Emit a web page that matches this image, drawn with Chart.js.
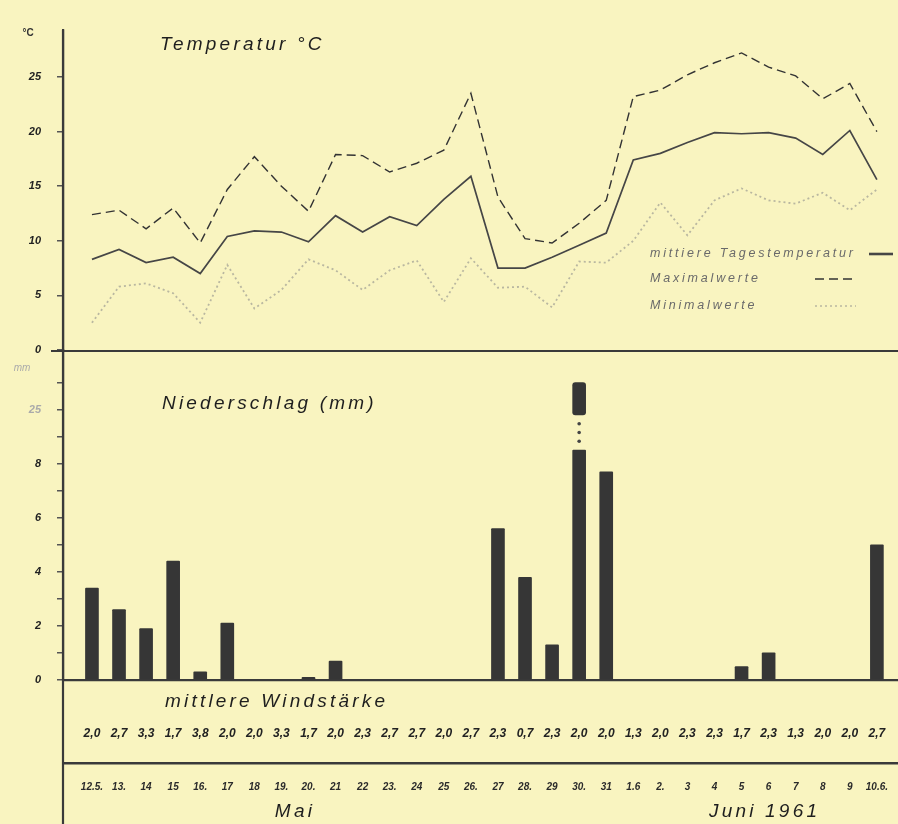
<!DOCTYPE html>
<html>
<head>
<meta charset="utf-8">
<script src="https://cdn.jsdelivr.net/npm/chart.js@4.4.1/dist/chart.umd.min.js"></script>
<style>
  html, body { margin:0; padding:0; background:#f9f4c0; }
  #wrap { width:898px; height:824px; position:relative; }
</style>
</head>
<body>
<div id="wrap"><canvas id="c" width="898" height="824"></canvas></div>
<script>
// Mai 12 .. Juni 10, 1961 (labels as printed)
const dates = ['12.5.','13.','14','15','16.','17','18','19.','20.','21','22','23.','24','25','26.',
               '27','28.','29','30.','31','1.6','2.','3','4','5','6','7','8','9','10.6.'];
const tMean = [8.3,9.2,8.0,8.5,7.0,10.4,10.9,10.8,9.9,12.3,10.8,12.2,11.4,13.8,15.9,
               7.5,7.5,8.5,9.6,10.7,17.4,18.0,19.0,19.9,19.8,19.9,19.4,17.9,20.1,15.6];
const tMax  = [12.4,12.8,11.1,13.0,9.8,14.7,17.7,15.0,12.7,17.9,17.8,16.3,17.1,18.3,23.5,
               14.0,10.2,9.8,11.6,13.7,23.2,23.8,25.2,26.3,27.2,25.9,25.1,23.0,24.4,20.0];
const tMin  = [2.5,5.8,6.1,5.2,2.5,7.8,3.8,5.5,8.3,7.3,5.5,7.3,8.2,4.4,8.4,
               5.7,5.8,3.9,8.1,8.0,10.0,13.5,10.5,13.7,14.8,13.7,13.4,14.4,12.8,14.7];
const rain  = [3.4,2.6,1.9,4.4,0.3,2.1,0,0,0.1,0.7,0,0,0,0,0,
               5.6,3.8,1.3,26,7.7,0,0,0,0,0.5,1.0,0,0,0,5.0];
const wind  = [2.0,2.7,3.3,1.7,3.8,2.0,2.0,3.3,1.7,2.0,2.3,2.7,2.7,2.0,2.7,
               2.3,0.7,2.3,2.0,2.0,1.3,2.0,2.3,2.3,1.7,2.3,1.3,2.0,2.0,2.7];
const tempTicks = [0,5,10,15,20,25];
const rainTicks = {0:'0',2:'2',4:'4',6:'6',8:'8',10:'25'};

// broken precipitation axis: 0..9 mm linear, above the break 25 mm sits at 10
const BREAK_LOW = 8.5, BREAK_HIGH = 9.8;
const rainAxis = v => v <= 9 ? v : 10 + (v - 25);

const FONT = '"Liberation Sans", "DejaVu Sans", sans-serif';

const pts = arr => arr.map((v, i) => ({x:i, y:v}));

const overlay = {
  id:'overlay',
  afterDraw(chart) {
    const {ctx, scales} = chart;
    const x = scales.x, yT = scales.yT, yP = scales.yP;
    const left = chart.chartArea.left, right = chart.width;
    ctx.save();
    // main vertical axis down to the bottom edge
    ctx.strokeStyle = '#3a3a3a'; ctx.lineWidth = 2.2;
    ctx.beginPath(); ctx.moveTo(left, chart.chartArea.top); ctx.lineTo(left, chart.height); ctx.stroke();
    // temperature base line
    const y0 = yT.getPixelForValue(0) + 1;
    ctx.beginPath(); ctx.moveTo(left - 12, y0); ctx.lineTo(right, y0); ctx.stroke();

    // dotted connector of the broken bar
    rain.forEach((v, i) => {
      if (v <= 9) return;
      const px = x.getPixelForValue(i);
      ctx.fillStyle = '#444';
      for (let k = 1; k <= 3; k++) {
        const vy = BREAK_LOW + (BREAK_HIGH - BREAK_LOW) * k / 4;
        ctx.beginPath(); ctx.arc(px, yP.getPixelForValue(vy), 1.8, 0, Math.PI * 2); ctx.fill();
      }
    });

    ctx.fillStyle = '#1e1e1e';
    ctx.textBaseline = 'middle';
    ctx.textAlign = 'left';
    ctx.letterSpacing = '3.2px';
    ctx.font = 'italic 19px ' + FONT;
    ctx.fillText('Temperatur °C', 160, 45);
    ctx.fillText('Niederschlag (mm)', 162, 404);
    ctx.fillText('mittlere Windstärke', 165, 702);
    ctx.textAlign = 'center';
    ctx.fillText('Mai', x.getPixelForValue(7.5), 812);
    ctx.fillText('Juni 1961', x.getPixelForValue(24.85), 812);

    ctx.letterSpacing = '0px';
    ctx.font = 'bold 10px ' + FONT;
    ctx.fillStyle = '#333';
    ctx.fillText('°C', 28, 33);
    ctx.fillStyle = '#aaa';
    ctx.font = 'italic 10px ' + FONT;
    ctx.fillText('mm', 22, 368);

    // legend
    const items = [
      {label:'mittiere Tagestemperatur', ds:0, y:254, x0:869, x1:893, w:2.6},
      {label:'Maximalwerte', ds:1, y:279, x0:815, x1:856, w:1.6},
      {label:'Minimalwerte', ds:2, y:306, x0:815, x1:856, w:1.6}
    ];
    ctx.textAlign = 'left';
    ctx.letterSpacing = '2.8px';
    ctx.font = 'italic 12.5px ' + FONT;
    items.forEach(it => {
      const ds = chart.data.datasets[it.ds];
      ctx.fillStyle = '#6a6a6a';
      ctx.fillText(it.label, 650, it.y);
      ctx.strokeStyle = ds.borderColor; ctx.lineWidth = it.w;
      ctx.setLineDash(ds.borderDash || []);
      ctx.beginPath(); ctx.moveTo(it.x0, it.y); ctx.lineTo(it.x1, it.y); ctx.stroke();
      ctx.setLineDash([]);
    });
    ctx.restore();
  }
};

const xTicks = (arr, fmt, size, pad, color) => ({
  stepSize:1, autoSkip:false, maxRotation:0, includeBounds:false, padding:pad, color:color,
  font:{family:FONT, size:size, style:'italic', weight:'bold'},
  callback: v => (Number.isInteger(v) && v >= 0 && v < arr.length) ? fmt(arr[v]) : null
});

new Chart(document.getElementById('c'), {
  data: {
    datasets: [
      {type:'line', label:'mittlere Tagestemperatur', data:pts(tMean), yAxisID:'yT',
       borderColor:'#464646', borderWidth:1.7, pointRadius:0, tension:0},
      {type:'line', label:'Maximalwerte', data:pts(tMax), yAxisID:'yT',
       borderColor:'#333', borderWidth:1.4, borderDash:[9,5], pointRadius:0, tension:0},
      {type:'line', label:'Minimalwerte', data:pts(tMin), yAxisID:'yT',
       borderColor:'#b9b7a0', borderWidth:1.8, borderDash:[2,3], pointRadius:0, tension:0},
      {type:'bar', label:'Niederschlag', yAxisID:'yP', xAxisID:'x', grouped:false,
       data: rain.map((v, i) => ({x:i, y: v > 9 ? BREAK_LOW : v})).filter(p => p.y > 0),
       backgroundColor:'#363636', barThickness:13, borderRadius:1},
      {type:'bar', label:'Niederschlag (oben)', yAxisID:'yP', xAxisID:'x', grouped:false,
       data: rain.map((v, i) => ({x:i, y:[BREAK_HIGH, rainAxis(v)]})).filter(p => rain[p.x] > 9),
       backgroundColor:'#363636', barThickness:13, borderRadius:3, borderSkipped:false}
    ]
  },
  options: {
    responsive:false, animation:false,
    layout:{padding:{top:30, left:0, right:0, bottom:0}},
    plugins:{legend:{display:false}, tooltip:{enabled:false}},
    scales: {
      x: {type:'linear', position:'bottom', weight:2, min:-1.07, max:29.78, offset:false,
          afterFit: s => { s.height = 61; s.paddingLeft = 0; s.paddingRight = 0; },
          grid:{display:false, drawTicks:false, offset:false},
          border:{display:true, color:'#3a3a3a', width:2.5},
          ticks:xTicks(dates, d => d, 10, 18, '#2a2a2a')},
      xW: {type:'linear', position:'bottom', weight:1, min:-1.07, max:29.78, offset:false,
          afterFit: s => { s.height = 83; s.paddingLeft = 0; s.paddingRight = 0; },
          grid:{display:false, drawTicks:false, offset:false},
          border:{display:true, color:'#3a3a3a', width:2.2},
          ticks:xTicks(wind, w => w.toFixed(1).replace('.', ','), 12, 46, '#222')},
      yP: {type:'linear', position:'left', stack:'v', stackWeight:330, min:0, max:12.2,
          afterFit: s => { s.width = 63; },
          grid:{drawOnChartArea:false, tickLength:6, color:'#555', lineWidth:1.5},
          border:{display:true, color:'#3a3a3a', width:2.2},
          ticks:{stepSize:1, padding:16, includeBounds:false,
                 color: c => c.tick && c.tick.value === 10 ? '#aaa' : '#222',
                 font:{family:FONT, size:11, style:'italic', weight:'bold'},
                 callback: v => Number.isInteger(v) && v <= 11 ? (rainTicks[v] !== undefined ? rainTicks[v] : '') : null}},
      yT: {type:'linear', position:'left', stack:'v', stackWeight:320, min:0, max:29.3,
          afterFit: s => { s.width = 63; },
          grid:{drawOnChartArea:false, tickLength:6, color:'#555', lineWidth:1.5},
          border:{display:true, color:'#3a3a3a', width:2.2},
          ticks:{stepSize:5, padding:16, includeBounds:false, color:'#222',
                 font:{family:FONT, size:11, style:'italic', weight:'bold'},
                 callback: v => tempTicks.includes(v) ? String(v) : null}}
    }
  },
  plugins:[overlay]
});
</script>
</body>
</html>
